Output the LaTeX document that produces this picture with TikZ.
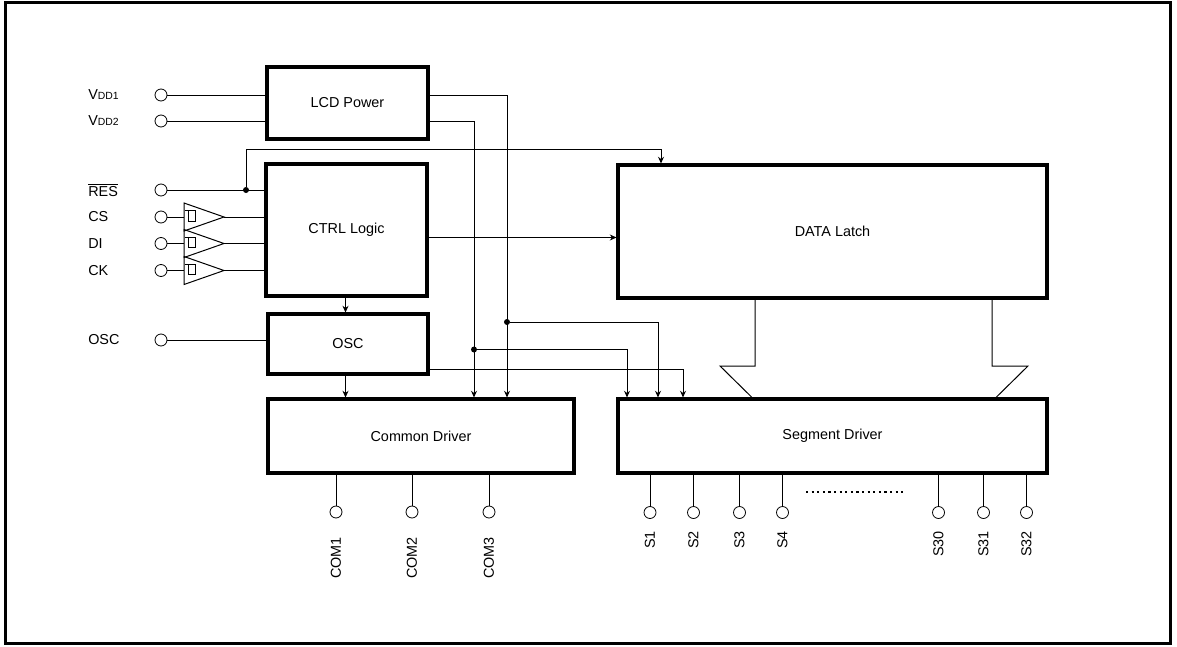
\documentclass[tikz,border=0pt]{standalone}
\usepackage{fontspec}
\setmainfont{Liberation Sans}
\usetikzlibrary{arrows.meta,calc}
\begin{document}
\begin{tikzpicture}[x=0.75pt,y=-0.75pt,
  blk/.style={draw,line width=2.3pt,inner sep=0pt,font=\fontsize{10.8}{13}\selectfont},
  pin/.style={draw,circle,minimum size=9pt,inner sep=0pt,line width=0.6pt,fill=white},
  wire/.style={line width=0.75pt},
  arr/.style={wire,-{Stealth[length=5pt,width=4.5pt]}},
  lbl/.style={font=\fontsize{10.8}{13}\selectfont,inner sep=0pt},
  dotj/.style={circle,fill,inner sep=0pt,minimum size=4.5pt}]
\useasboundingbox (0,0) rectangle (1177,646);
\draw[line width=1.9pt] (5.5,2.5) rectangle (1170.5,643.5);

% blocks
\node[blk,minimum width=120.75pt,minimum height=54pt] (lcd) at (347.5,103) {LCD Power};
\node[blk,minimum width=120.75pt,minimum height=99pt] (ctrl) at (346.5,230) {CTRL Logic};
\node[blk,minimum width=120pt,minimum height=45pt] (osc) at (348,344) {OSC};
\node[blk,minimum width=229.5pt,minimum height=55.5pt] (com) at (421,436) {Common Driver};
\node[blk,minimum width=321.75pt,minimum height=99.75pt] (data) at (832.5,231.5) {DATA Latch};
\node[blk,minimum width=321.75pt,minimum height=55.5pt] (seg) at (832.5,436) {Segment Driver};

% left pins
\node[pin] (pvdd1) at (161,95) {};
\node[pin] (pvdd2) at (161,121) {};
\node[pin] (pres) at (161,190) {};
\node[pin] (pcs) at (161,217) {};
\node[pin] (pdi) at (161,243.5) {};
\node[pin] (pck) at (161,270.5) {};
\node[pin] (posc) at (161,340) {};

\node[lbl,anchor=west] (lvdd1) at (88,95) {V{\fontsize{7.8}{9}\selectfont DD1}};
\node[lbl,anchor=west] (lvdd2) at (88,121) {V{\fontsize{7.8}{9}\selectfont DD2}};
\node[lbl,anchor=west] (lres) at (88,190) {$\overline{\hbox{RES}}$};
\node[lbl,anchor=west] (lcs) at (88,217) {CS};
\node[lbl,anchor=west] (ldi) at (88,243.5) {DI};
\node[lbl,anchor=west] (lck) at (88,270.5) {CK};
\node[lbl,anchor=west] (losc) at (88,340) {OSC};

% helper coordinates
\coordinate (xa) at (507,0);
\coordinate (xb) at (474,0);
\coordinate (xc) at (627,0);
\coordinate (xd) at (658,0);
\coordinate (xe) at (683,0);
\coordinate (xf) at (661,0);
\coordinate (xg) at (345.5,0);
\coordinate (yo) at (0,369);
\coordinate (yd) at (0,237.5);
\coordinate (rtop) at (246,149);

% LCD power wires
\draw[wire] (pvdd1) -- (pvdd1 -| lcd.west);
\draw[wire] (pvdd2) -- (pvdd2 -| lcd.west);
\draw[arr] (pvdd1 -| lcd.east) -| (com.north -| xa);
\draw[arr] (pvdd2 -| lcd.east) -| (com.north -| xb);
\node[dotj] (j1) at (507,322) {};
\node[dotj] (j2) at (474,349.5) {};
\draw[arr] (j1) -| (seg.north -| xd);
\draw[arr] (j2) -| (seg.north -| xc);
\draw[arr] (osc.east |- yo) -| (seg.north -| xe);

% RES
\draw[wire] (pres) -- (pres -| ctrl.west);
\node[dotj] (j3) at (246,190) {};
\draw[arr] (j3) -- (rtop) -| (data.north -| xf);

% ctrl outputs
\draw[arr] (ctrl.east |- yd) -- (data.west |- yd);
\draw[arr] (ctrl.south -| xg) -- (osc.north -| xg);
\draw[arr] (osc.south -| xg) -- (com.north -| xg);
\draw[wire] (posc) -- (posc -| osc.west);

% buffers
\foreach \n/\y in {cs/217,di/243.5,ck/270.5}{
  \coordinate (\n in) at (184,\y);
  \coordinate (\n out) at (224,\y);
  \draw[wire] (p\n) -- (\n in);
  \draw[wire] (\n out) -- (\n out -| ctrl.west);
  \draw[wire] (184,\y-14) -- (\n out) -- (184,\y+14) -- cycle;
  \draw[line width=0.65pt] (185,\y-6.5) -- (195.5,\y-6.5) -- (195.5,\y+4) -- (188.5,\y+4) -- (188.5,\y-6.5);
}

% bus between data latch and segment driver
\coordinate (bl1) at (755,366);
\coordinate (bl2) at (720,366);
\coordinate (bl3) at (752,0);
\coordinate (br1) at (992,366);
\coordinate (br2) at (1028,366);
\coordinate (br3) at (996,0);
\draw[wire] (data.south -| bl1) -- (bl1) -- (bl2) -- (seg.north -| bl3);
\draw[wire] (data.south -| br1) -- (br1) -- (br2) -- (seg.north -| br3);

% common outputs
\foreach \n/\x in {COM1/336,COM2/412,COM3/489}{
  \node[pin] (p\n) at (\x,512) {};
  \draw[wire] (com.south -| p\n) -- (p\n);
  \node[lbl,rotate=90,anchor=east] (l\n) at (\x,537) {\n};
}

% segment outputs
\foreach \n/\x in {S1/650,S2/693.5,S3/739.5,S4/782.5,S30/938.5,S31/983.5,S32/1026.5}{
  \node[pin] (p\n) at (\x,512.5) {};
  \draw[wire] (seg.south -| p\n) -- (p\n);
  \node[lbl,rotate=90,anchor=east] (l\n) at (\x,531) {\n};
}
\coordinate (dl) at (806,492);
\coordinate (dr) at (904,492);
\draw[line width=1.6pt,dash pattern=on 1.6pt off 2.6pt] (dl) -- (dr);
\end{tikzpicture}
\end{document}
